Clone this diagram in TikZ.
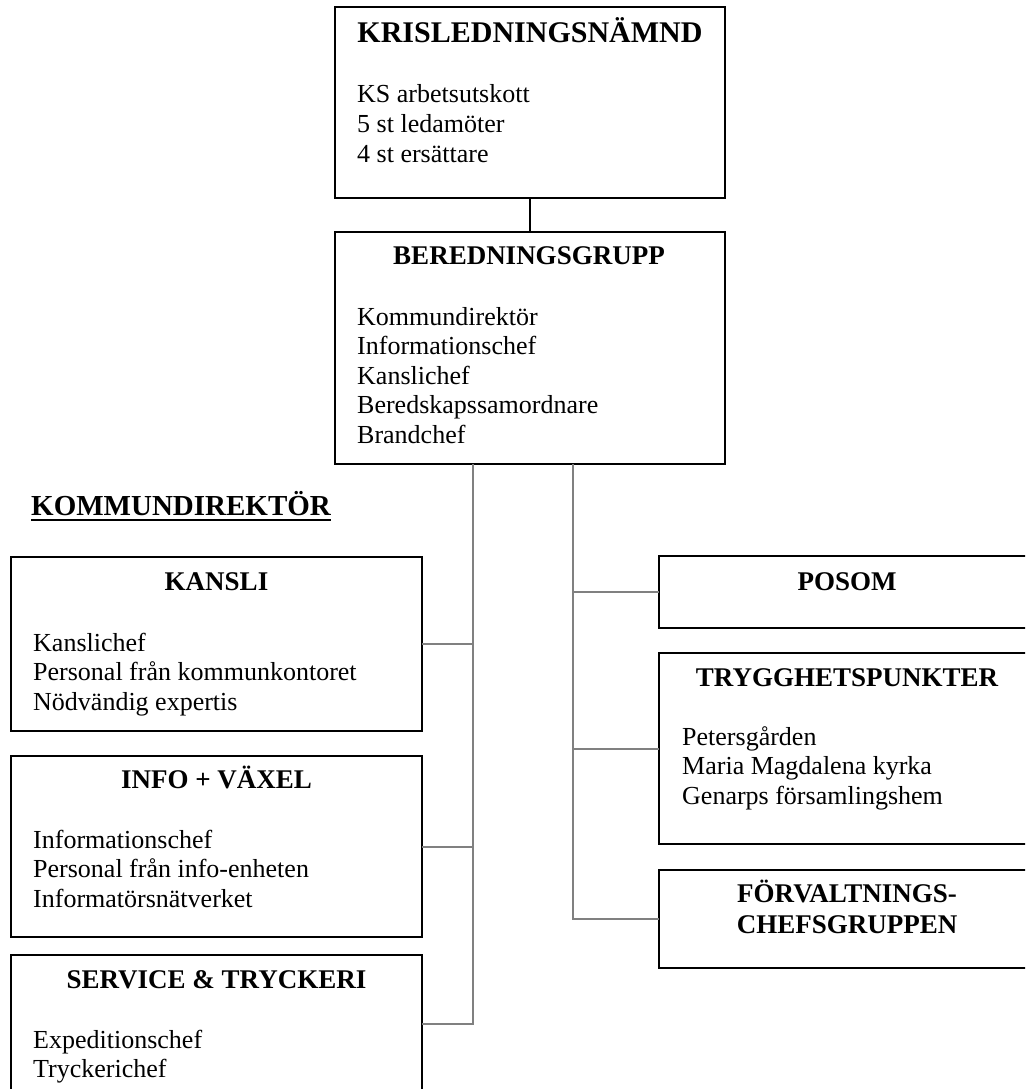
\documentclass[tikz,border=0pt]{standalone}
\usepackage{fontspec}
\setmainfont{Liberation Serif}
\definecolor{linkgray}{RGB}{128,128,128}
% one node per text line, stacked with a fixed line pitch
\newcommand\bodylines[4]{%
  \foreach \ln [count=\i from 0] in {#4}
    \node[body] (#1-\i) at (#2, #3+29.5*\i) {\ln};}
\begin{document}
\begin{tikzpicture}[x=1pt,y=-1pt,
  box/.style={draw=black, line width=2.6pt, rectangle, inner sep=0pt, outer sep=0pt},
  link/.style={draw=black, line width=2pt},
  conn/.style={draw=linkgray, line width=2pt},
  title/.style={font=\bfseries\fontsize{30}{34}\selectfont, inner sep=0pt, anchor=base},
  head/.style={font=\bfseries\fontsize{27}{31}\selectfont, inner sep=0pt, anchor=base},
  body/.style={font=\fontsize{26}{29.5}\selectfont, inner sep=0pt, anchor=base west}]
\useasboundingbox (0,0) rectangle (1025,1089);
\clip (0,0) rectangle (1025,1089);

% boxes
\node[box, minimum width=390, minimum height=191] (kris)    at (530,102.5) {};
\node[box, minimum width=390, minimum height=232] (bered)   at (530,348) {};
\node[box, minimum width=411, minimum height=174] (kansli)  at (216.5,644) {};
\node[box, minimum width=411, minimum height=181] (info)    at (216.5,846.5) {};
\node[box, minimum width=411, minimum height=165] (service) at (216.5,1037.5) {};
\node[box, minimum width=376, minimum height=72]  (posom)   at (847,592) {};
\node[box, minimum width=376, minimum height=191] (trygg)   at (847,748.5) {};
\node[box, minimum width=376, minimum height=98]  (forv)    at (847,919) {};

% trunk positions
\coordinate (tl) at (473,0);
\coordinate (tr) at (573,0);
\coordinate (svcrow) at (0,1024);

% connectors
\draw[link] (kris.south) -- (bered.north);
\draw[conn] (bered.south -| tl) -- (tl |- svcrow) -- (service.east |- svcrow);
\draw[conn] (kansli.east) -- (kansli.east -| tl);
\draw[conn] (info.east) -- (info.east -| tl);
\draw[conn] (bered.south -| tr) -- (tr |- forv.west) -- (forv.west);
\draw[conn] (posom.west) -- (posom.west -| tr);
\draw[conn] (trygg.west) -- (trygg.west -| tr);

% texts
\node[title] (kris-t) at (530,43) {KRISLEDNINGSNÄMND};
\bodylines{kris}{357}{103}{KS arbetsutskott,5 st ledamöter,4 st ersättare}

\node[head] (bered-t) at (529,264) {BEREDNINGSGRUPP};
\bodylines{bered}{357}{325}{Kommundirektör,Informationschef,Kanslichef,Beredskapssamordnare,Brandchef}

\node[font=\bfseries\fontsize{29}{33}\selectfont, inner sep=0pt, anchor=base west] (kd) at (31,515) {KOMMUNDIREKTÖR};
\draw[line width=1.5pt] ([yshift=-5pt]kd.base west) -- ([yshift=-5pt]kd.base east);

\node[head] (kansli-t) at (216.5,590) {KANSLI};
\bodylines{kansli}{33}{651}{Kanslichef,Personal från kommunkontoret,Nödvändig expertis}

\node[head] (info-t) at (216.5,788) {INFO + VÄXEL};
\bodylines{info}{33}{848}{Informationschef,Personal från info-enheten,Informatörsnätverket}

\node[head] (service-t) at (216.5,988) {SERVICE \& TRYCKERI};
\bodylines{service}{33}{1048}{Expeditionschef,Tryckerichef}

\node[head] (posom-t) at (847,590) {POSOM};

\node[head] (trygg-t) at (847,686) {TRYGGHETSPUNKTER};
\bodylines{trygg}{682}{745}{Petersgården,Maria Magdalena kyrka,Genarps församlingshem}

\node[head] (forv-t1) at (847,902) {FÖRVALTNINGS-};
\node[head] (forv-t2) at (847,933) {CHEFSGRUPPEN};
\end{tikzpicture}
\end{document}
